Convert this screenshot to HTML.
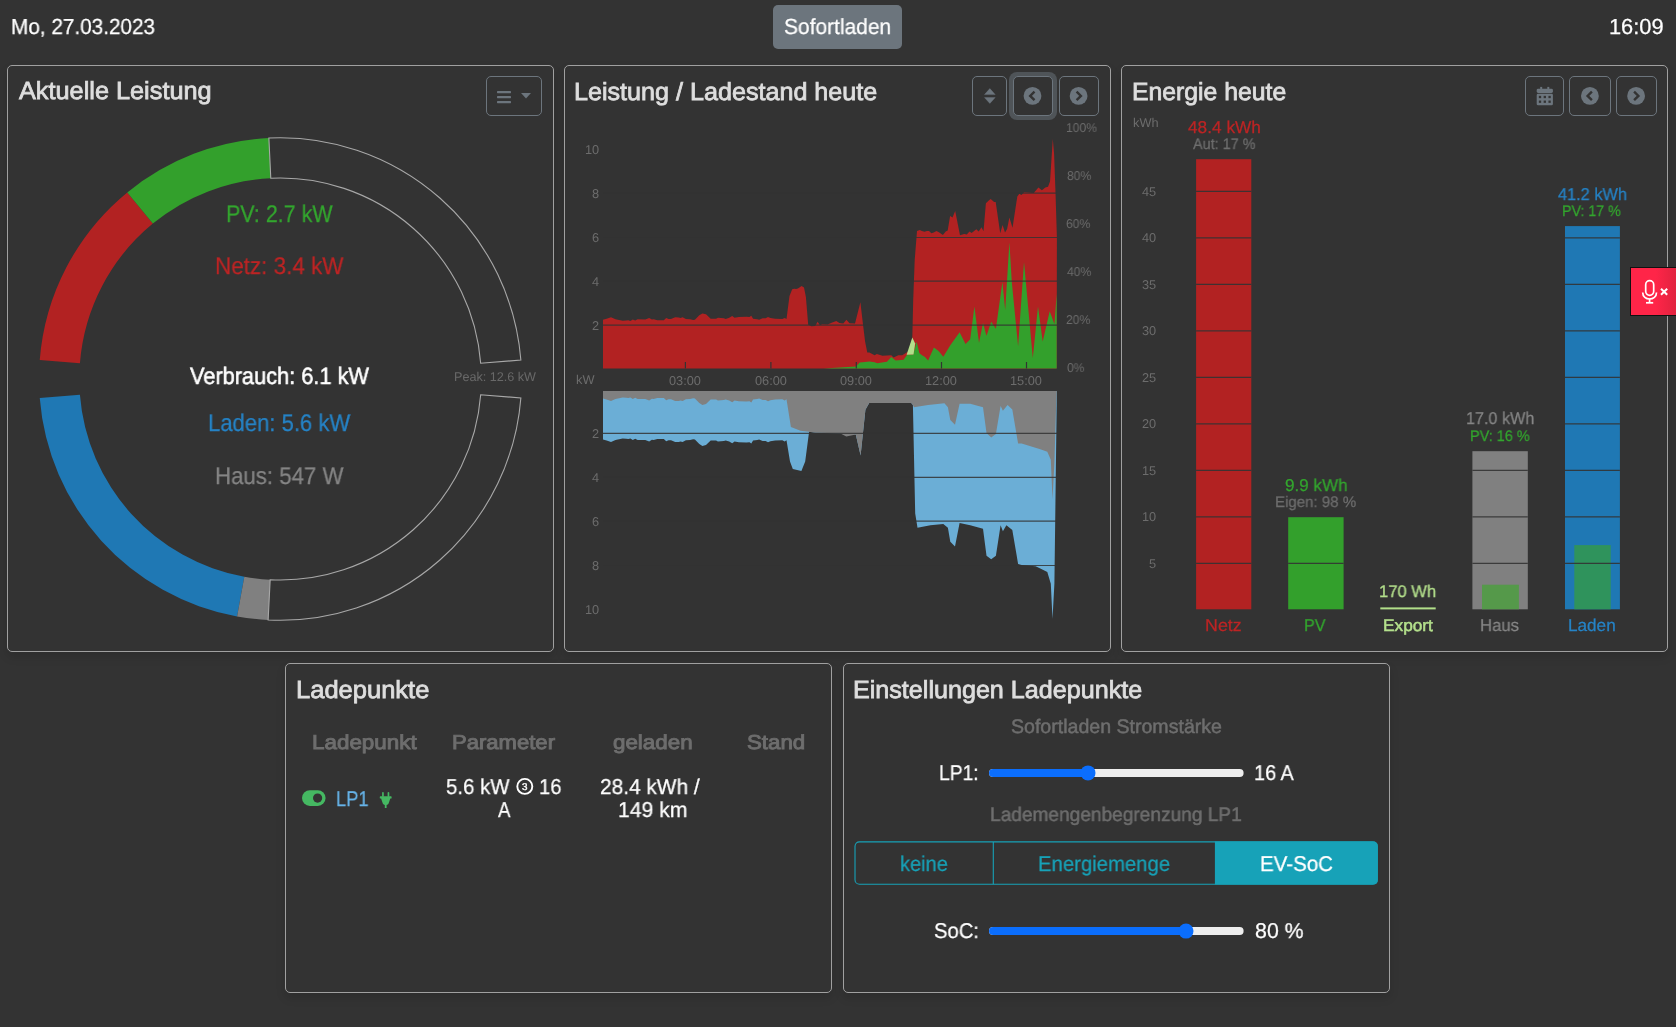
<!DOCTYPE html>
<html><head><meta charset="utf-8"><title>openWB</title>
<style>
html,body{margin:0;padding:0;}
body{width:1676px;height:1027px;background:#333333;position:relative;overflow:hidden;font-family:"Liberation Sans",sans-serif;}
.card{position:absolute;box-sizing:border-box;border:1px solid #a0a0a0;border-radius:5px;background:#333333;box-shadow:0 5px 10px rgba(0,0,0,0.13);}
.btn{position:absolute;box-sizing:border-box;border:1px solid #6c757d;border-radius:5px;}
.tx{position:absolute;white-space:nowrap;line-height:normal;transform-origin:0 0;will-change:transform;text-rendering:geometricPrecision;font-family:"Liberation Sans",sans-serif;}
svg{position:absolute;left:0;top:0;}
</style></head><body>
<div class="card" style="left:7px;top:65px;width:547px;height:587px"></div>
<div class="card" style="left:564px;top:65px;width:547px;height:587px"></div>
<div class="card" style="left:1121px;top:65px;width:547px;height:587px"></div>
<div class="card" style="left:285px;top:663px;width:547px;height:330px"></div>
<div class="card" style="left:843px;top:663px;width:547px;height:330px"></div>
<div style="position:absolute;left:773px;top:5px;width:129px;height:44px;background:#6c757d;border-radius:5px"></div>
<div class="btn" style="left:486px;top:76px;width:56px;height:40px"></div>
<div style="position:absolute;left:1008.5px;top:72px;width:48px;height:48px;border-radius:8px;background:rgba(108,117,125,0.5)"></div>
<div class="btn" style="left:1012.5px;top:76px;width:40px;height:40px;background:#333"></div>
<div class="btn" style="left:972px;top:76px;width:35px;height:40px"></div>
<div class="btn" style="left:1058.5px;top:76px;width:40.5px;height:40px"></div>
<div class="btn" style="left:1525px;top:76px;width:39px;height:40px"></div>
<div class="btn" style="left:1569px;top:76px;width:42px;height:40px"></div>
<div class="btn" style="left:1616px;top:76px;width:41px;height:40px"></div>
<svg width="1676" height="1027" viewBox="0 0 1676 1027"><path d="M39.74,360.07 A241.3,241.3 0 0 1 127.28,192.42 L152.84,223.59 A201.0,201.0 0 0 0 79.92,363.23 Z" fill="#b22222"/>
<path d="M127.28,192.42 A241.3,241.3 0 0 1 268.87,137.97 L270.78,178.23 A201.0,201.0 0 0 0 152.84,223.59 Z" fill="#33a02c"/>
<path d="M268.87,137.97 A241.3,241.3 0 0 1 520.86,360.07 L480.68,363.23 A201.0,201.0 0 0 0 270.78,178.23 Z" fill="none" stroke="#a8a8a8" stroke-width="1.1"/>
<path d="M39.74,397.93 A241.3,241.3 0 0 0 237.10,616.40 L244.31,576.75 A201.0,201.0 0 0 1 79.92,394.77 Z" fill="#1f78b4"/>
<path d="M237.10,616.40 A241.3,241.3 0 0 0 268.13,619.99 L270.16,579.74 A201.0,201.0 0 0 1 244.31,576.75 Z" fill="#808080"/>
<path d="M268.13,619.99 A241.3,241.3 0 0 0 520.86,397.93 L480.68,394.77 A201.0,201.0 0 0 1 270.16,579.74 Z" fill="none" stroke="#a8a8a8" stroke-width="1.1"/>
<path d="M603.0,368.5 L603.0,319.7 L606.6,318.8 L611.0,317.2 L615.5,319.2 L622.7,320.8 L626.3,320.6 L628.3,320.2 L630.4,320.9 L632.8,319.4 L635.2,320.6 L637.6,319.2 L645.3,319.4 L649.2,317.9 L651.9,319.6 L653.7,319.2 L657.3,320.2 L663.8,320.2 L666.2,318.0 L668.6,319.1 L671.0,319.1 L675.2,317.3 L678.8,317.4 L680.5,317.9 L682.6,317.3 L685.9,319.0 L690.1,319.2 L693.1,320.0 L694.9,319.8 L699.3,315.2 L702.4,313.4 L706.0,314.3 L710.7,318.8 L716.1,318.8 L717.9,317.7 L723.9,318.3 L725.7,318.9 L729.2,317.7 L732.2,316.0 L734.6,317.7 L738.8,317.0 L746.5,316.7 L749.5,317.0 L751.3,315.7 L753.1,318.8 L757.3,319.3 L759.1,319.7 L762.6,318.3 L765.6,318.2 L768.0,317.0 L770.4,318.1 L775.2,318.8 L782.3,319.1 L784.7,317.9 L786.5,319.1 L787.7,309.8 L789.5,296.1 L792.2,289.2 L794.3,288.7 L796.1,288.9 L797.9,288.4 L801.6,286.1 L804.0,287.4 L805.9,297.1 L808.2,324.8 L811.4,326.3 L815.2,326.0 L817.6,321.7 L819.9,325.2 L822.3,324.2 L827.7,324.4 L831.6,322.7 L836.3,321.1 L839.4,323.0 L843.3,323.6 L846.4,319.7 L849.5,323.2 L855.0,323.6 L860.4,302.2 L863.1,325.2 L865.1,341.5 L867.3,352.5 L869.4,352.6 L874.6,355.2 L876.8,354.1 L882.5,355.7 L891.3,355.2 L893.5,357.4 L898.3,355.2 L902.2,355.2 L906.6,352.6 L908.8,350.9 L912.3,337.7 L913.2,300.0 L914.7,260.0 L917.0,230.9 L919.8,229.9 L921.8,230.9 L924.5,231.7 L926.9,230.9 L929.0,231.0 L931.4,233.3 L933.7,232.6 L936.5,231.0 L938.9,232.3 L942.9,234.9 L945.7,231.6 L947.7,230.6 L950.1,215.9 L952.5,217.6 L955.2,211.1 L960.0,235.3 L964.1,234.0 L966.8,234.6 L969.5,231.6 L971.6,233.1 L976.3,229.2 L978.7,231.4 L981.5,227.2 L983.5,231.2 L985.9,203.3 L989.3,199.9 L990.7,199.1 L994.1,201.9 L995.7,201.9 L1000.2,233.2 L1002.6,225.0 L1005.0,232.6 L1007.1,229.1 L1009.4,217.5 L1012.5,227.8 L1017.3,196.4 L1019.3,193.7 L1021.4,195.0 L1024.1,192.3 L1033.7,193.0 L1038.4,187.5 L1041.9,190.3 L1045.3,187.5 L1048.0,186.8 L1050.0,181.4 L1052.8,139.1 L1054.1,154.1 L1055.5,192.3 L1056.9,237.3 L1056.7,368.5 Z" fill="#b22222"/>
<path d="M823.4,368.5 L840.0,367.6 L855.8,366.4 L859.7,362.6 L865.0,362.0 L869.4,361.4 L874.6,362.2 L877.3,363.3 L883.4,362.2 L886.9,361.8 L891.3,357.0 L895.7,360.5 L903.6,359.8 L907.1,354.8 L913.2,354.4 L916.7,341.7 L919.3,353.0 L922.0,355.2 L925.0,357.0 L928.1,360.4 L933.9,347.5 L938.6,351.0 L943.3,356.8 L950.3,345.2 L959.6,332.3 L965.5,344.0 L970.2,339.3 L974.4,306.6 L979.0,342.8 L983.0,322.9 L986.5,335.8 L991.2,321.8 L995.9,328.8 L1002.4,282.0 L1005.2,310.1 L1009.4,242.3 L1011.8,282.0 L1018.1,346.3 L1024.0,262.1 L1032.8,358.0 L1038.0,306.6 L1042.7,341.6 L1049.7,311.2 L1054.4,324.1 L1056.7,293.7 L1056.7,368.5 Z" fill="#33a02c"/>
<path d="M906.6,354.8 L912.3,337.4 L915.2,343.5 L913.5,354.6 Z" fill="#b2df8a"/>
<path d="M603.0,391.0 L603.0,439.6 L606.6,440.5 L611.0,442.1 L615.5,440.1 L622.7,438.5 L626.3,438.7 L628.3,439.1 L630.4,438.4 L632.8,439.9 L635.2,438.7 L637.6,440.1 L645.3,439.9 L649.2,441.4 L651.9,439.7 L653.7,440.1 L657.3,439.1 L663.8,439.1 L666.2,441.3 L668.6,440.2 L671.0,440.2 L675.2,442.0 L678.8,441.9 L680.5,441.4 L682.6,442.0 L685.9,440.3 L690.1,440.1 L693.1,439.3 L694.9,439.5 L699.3,444.1 L702.4,445.9 L706.0,445.0 L710.7,440.5 L716.1,440.5 L717.9,441.6 L723.9,441.0 L725.7,440.4 L729.2,441.6 L732.2,443.3 L734.6,441.6 L738.8,442.3 L746.5,442.6 L749.5,442.3 L751.3,443.6 L753.1,440.5 L757.3,440.0 L759.1,439.6 L762.6,441.0 L765.6,441.1 L768.0,442.3 L770.4,441.2 L775.2,440.5 L782.3,440.2 L784.7,441.4 L786.5,440.2 L790.0,461.4 L792.8,469.0 L801.4,470.9 L805.2,461.4 L809.1,431.8 L815.7,432.7 L848.2,433.7 L855.8,434.6 L860.6,455.6 L865.4,409.8 L869.2,403.1 L911.2,403.1 L912.9,404.9 L915.2,513.6 L917.5,527.7 L930.4,525.3 L943.3,524.1 L947.9,527.7 L950.3,541.7 L955.0,546.4 L959.6,523.0 L970.2,525.3 L983.0,528.8 L986.5,555.7 L991.2,559.2 L995.9,555.7 L1000.6,525.3 L1002.9,531.2 L1006.4,525.3 L1012.3,530.0 L1018.1,563.9 L1021.6,565.1 L1035.6,566.2 L1040.3,568.6 L1047.3,572.1 L1050.8,583.8 L1052.5,618.9 L1054.4,583.8 L1056.7,403.7 L1056.7,391.0 Z" fill="#6baed6"/>
<path d="M603.0,391.0 L603.0,398.6 L606.6,399.5 L611.0,401.1 L615.5,399.1 L622.7,397.5 L626.3,397.7 L628.3,398.1 L630.4,397.4 L632.8,398.9 L635.2,397.7 L637.6,399.1 L645.3,398.9 L649.2,400.4 L651.9,398.7 L653.7,399.1 L657.3,398.1 L663.8,398.1 L666.2,400.3 L668.6,399.2 L671.0,399.2 L675.2,401.0 L678.8,400.9 L680.5,400.4 L682.6,401.0 L685.9,399.3 L690.1,399.1 L693.1,398.3 L694.9,398.5 L699.3,403.1 L702.4,404.9 L706.0,404.0 L710.7,399.5 L716.1,399.5 L717.9,400.6 L723.9,400.0 L725.7,399.4 L729.2,400.6 L732.2,402.3 L734.6,400.6 L738.8,401.3 L746.5,401.6 L749.5,401.3 L751.3,402.6 L753.1,399.5 L757.3,399.0 L759.1,398.6 L762.6,400.0 L765.6,400.1 L768.0,401.3 L770.4,400.2 L775.2,399.5 L782.3,399.2 L784.7,400.4 L786.5,399.2 L790.9,427.0 L800.5,430.8 L809.1,431.8 L815.7,432.7 L840.0,433.3 L846.3,436.5 L855.8,434.6 L860.6,455.6 L865.4,409.8 L869.2,403.1 L911.2,403.1 L912.9,404.9 L914.0,407.2 L928.1,404.9 L944.4,403.2 L947.9,407.2 L950.3,420.1 L955.0,424.8 L959.6,403.7 L970.2,403.7 L983.0,407.2 L986.5,433.0 L991.2,437.6 L995.9,434.1 L1000.6,406.0 L1002.9,410.7 L1007.6,404.9 L1012.3,409.6 L1018.1,443.5 L1021.6,443.5 L1040.3,449.3 L1047.3,451.7 L1050.8,459.8 L1052.5,499.6 L1054.4,462.2 L1056.2,403.7 L1056.7,392.0 L1056.7,391.0 Z" fill="#808080"/>
<line x1="603" y1="325.2" x2="1057" y2="325.2" stroke="#333" stroke-opacity="0.85" stroke-width="1.2"/>
<line x1="603" y1="281.2" x2="1057" y2="281.2" stroke="#333" stroke-opacity="0.85" stroke-width="1.2"/>
<line x1="603" y1="237.5" x2="1057" y2="237.5" stroke="#333" stroke-opacity="0.85" stroke-width="1.2"/>
<line x1="603" y1="193.1" x2="1057" y2="193.1" stroke="#333" stroke-opacity="0.85" stroke-width="1.2"/>
<line x1="603" y1="433.4" x2="1057" y2="433.4" stroke="#333" stroke-opacity="0.85" stroke-width="1.2"/>
<line x1="603" y1="477.4" x2="1057" y2="477.4" stroke="#333" stroke-opacity="0.85" stroke-width="1.2"/>
<line x1="603" y1="521.1" x2="1057" y2="521.1" stroke="#333" stroke-opacity="0.85" stroke-width="1.2"/>
<line x1="603" y1="565.5" x2="1057" y2="565.5" stroke="#333" stroke-opacity="0.85" stroke-width="1.2"/>
<line x1="685.4" y1="362" x2="685.4" y2="368.5" stroke="#333" stroke-width="1.2"/>
<line x1="770.9" y1="362" x2="770.9" y2="368.5" stroke="#333" stroke-width="1.2"/>
<line x1="856.3" y1="362" x2="856.3" y2="368.5" stroke="#333" stroke-width="1.2"/>
<line x1="941.5" y1="362" x2="941.5" y2="368.5" stroke="#333" stroke-width="1.2"/>
<line x1="1026.5" y1="362" x2="1026.5" y2="368.5" stroke="#333" stroke-width="1.2"/>
<rect x="1196.1" y="159.2" width="55.200000000000045" height="450.1" fill="#b22222"/>
<rect x="1288.2" y="517.2" width="55.399999999999864" height="92.1" fill="#33a02c"/>
<rect x="1472.4" y="451.2" width="55.399999999999864" height="158.1" fill="#808080"/>
<rect x="1565" y="226.1" width="54.90000000000009" height="383.2" fill="#1f78b4"/>
<rect x="1482" y="584.7" width="36.90000000000009" height="24.6" fill="#55994a"/>
<rect x="1574.3" y="545.1" width="36.40000000000009" height="64.2" fill="#2f935c"/>
<rect x="1380.3" y="607.4" width="55.4" height="2" fill="#b2df8a"/>
<line x1="1196.1" y1="191.4" x2="1251.3" y2="191.4" stroke="#333" stroke-opacity="0.9" stroke-width="1.2"/>
<line x1="1196.1" y1="237.9" x2="1251.3" y2="237.9" stroke="#333" stroke-opacity="0.9" stroke-width="1.2"/>
<line x1="1565" y1="237.9" x2="1619.9" y2="237.9" stroke="#333" stroke-opacity="0.9" stroke-width="1.2"/>
<line x1="1196.1" y1="284.4" x2="1251.3" y2="284.4" stroke="#333" stroke-opacity="0.9" stroke-width="1.2"/>
<line x1="1565" y1="284.4" x2="1619.9" y2="284.4" stroke="#333" stroke-opacity="0.9" stroke-width="1.2"/>
<line x1="1196.1" y1="330.9" x2="1251.3" y2="330.9" stroke="#333" stroke-opacity="0.9" stroke-width="1.2"/>
<line x1="1565" y1="330.9" x2="1619.9" y2="330.9" stroke="#333" stroke-opacity="0.9" stroke-width="1.2"/>
<line x1="1196.1" y1="377.4" x2="1251.3" y2="377.4" stroke="#333" stroke-opacity="0.9" stroke-width="1.2"/>
<line x1="1565" y1="377.4" x2="1619.9" y2="377.4" stroke="#333" stroke-opacity="0.9" stroke-width="1.2"/>
<line x1="1196.1" y1="423.9" x2="1251.3" y2="423.9" stroke="#333" stroke-opacity="0.9" stroke-width="1.2"/>
<line x1="1565" y1="423.9" x2="1619.9" y2="423.9" stroke="#333" stroke-opacity="0.9" stroke-width="1.2"/>
<line x1="1196.1" y1="470.4" x2="1251.3" y2="470.4" stroke="#333" stroke-opacity="0.9" stroke-width="1.2"/>
<line x1="1472.4" y1="470.4" x2="1527.8" y2="470.4" stroke="#333" stroke-opacity="0.9" stroke-width="1.2"/>
<line x1="1565" y1="470.4" x2="1619.9" y2="470.4" stroke="#333" stroke-opacity="0.9" stroke-width="1.2"/>
<line x1="1196.1" y1="516.9" x2="1251.3" y2="516.9" stroke="#333" stroke-opacity="0.9" stroke-width="1.2"/>
<line x1="1472.4" y1="516.9" x2="1527.8" y2="516.9" stroke="#333" stroke-opacity="0.9" stroke-width="1.2"/>
<line x1="1565" y1="516.9" x2="1619.9" y2="516.9" stroke="#333" stroke-opacity="0.9" stroke-width="1.2"/>
<line x1="1196.1" y1="563.4" x2="1251.3" y2="563.4" stroke="#333" stroke-opacity="0.9" stroke-width="1.2"/>
<line x1="1288.2" y1="563.4" x2="1343.6" y2="563.4" stroke="#333" stroke-opacity="0.9" stroke-width="1.2"/>
<line x1="1472.4" y1="563.4" x2="1527.8" y2="563.4" stroke="#333" stroke-opacity="0.9" stroke-width="1.2"/>
<line x1="1565" y1="563.4" x2="1619.9" y2="563.4" stroke="#333" stroke-opacity="0.9" stroke-width="1.2"/>
<rect x="497" y="91" width="14" height="2.2" rx="0.6" fill="#6c757d"/>
<rect x="497" y="96" width="14" height="2.2" rx="0.6" fill="#6c757d"/>
<rect x="497" y="101" width="14" height="2.2" rx="0.6" fill="#6c757d"/>
<path d="M521,93 L531,93 L526,98.5 Z" fill="#6c757d"/>
<path d="M989.85,88.6 L995.2,94.6 L984.5,94.6 Z M989.85,103.4 L995.2,97.6 L984.5,97.6 Z" fill="#6c757d" stroke="#6c757d" stroke-width="0.4" stroke-linejoin="round"/>
<circle cx="1032.5" cy="95.9" r="8.9" fill="#6c757d"/>
<path d="M1034.5,91.7 L1030.2,95.9 L1034.5,100.10000000000001" fill="none" stroke="#333" stroke-width="2.4" stroke-linecap="butt" stroke-linejoin="miter"/>
<circle cx="1078.6" cy="95.9" r="8.9" fill="#6c757d"/>
<path d="M1076.6,91.7 L1080.8999999999999,95.9 L1076.6,100.10000000000001" fill="none" stroke="#333" stroke-width="2.4" stroke-linecap="butt" stroke-linejoin="miter"/>
<circle cx="1589.9" cy="95.9" r="8.9" fill="#6c757d"/>
<path d="M1591.9,91.7 L1587.6000000000001,95.9 L1591.9,100.10000000000001" fill="none" stroke="#333" stroke-width="2.4" stroke-linecap="butt" stroke-linejoin="miter"/>
<circle cx="1636.1" cy="95.9" r="8.9" fill="#6c757d"/>
<path d="M1634.1,91.7 L1638.3999999999999,95.9 L1634.1,100.10000000000001" fill="none" stroke="#333" stroke-width="2.4" stroke-linecap="butt" stroke-linejoin="miter"/>
<rect x="1536.7" y="88.7" width="16.2" height="4.3" rx="1.4" fill="#6c757d"/>
<rect x="1536.7" y="93.7" width="16.2" height="11.6" rx="1.4" fill="#6c757d"/>
<rect x="1540.2" y="86.9" width="2" height="3" fill="#6c757d"/><rect x="1547.3" y="86.9" width="2" height="3" fill="#6c757d"/>
<rect x="1538.85" y="95.85" width="2.3" height="2.3" fill="#333"/>
<rect x="1538.85" y="100.55" width="2.3" height="2.3" fill="#333"/>
<rect x="1543.65" y="95.85" width="2.3" height="2.3" fill="#333"/>
<rect x="1543.65" y="100.55" width="2.3" height="2.3" fill="#333"/>
<rect x="1548.45" y="95.85" width="2.3" height="2.3" fill="#333"/>
<rect x="1548.45" y="100.55" width="2.3" height="2.3" fill="#333"/>
<rect x="302" y="790.3" width="23.6" height="15.6" rx="7.8" fill="#45b862"/>
<circle cx="317.6" cy="798.1" r="4.6" fill="#333"/>
<g fill="#45b862"><rect x="382.1" y="791.9" width="1.7" height="5" rx="0.85"/><rect x="387.6" y="791.9" width="1.7" height="5" rx="0.85"/><path d="M380.4,796.3 L391.0,796.3 Q391.6,796.3 391.6,796.9 L391.6,797.9 Q391.6,798.5 391.0,798.5 L390.3,798.5 L388.6,803.6 Q388.2,804.6 387.2,804.8 L386.6,804.9 L386.6,808.0 L384.8,808.0 L384.8,804.9 L384.2,804.8 Q383.2,804.6 382.8,803.6 L381.1,798.5 L380.4,798.5 Q379.8,798.5 379.8,797.9 L379.8,796.9 Q379.8,796.3 380.4,796.3 Z"/></g>
<circle cx="524.8" cy="786.4" r="7.5" fill="none" stroke="#fff" stroke-width="1.9"/>
<rect x="989" y="768.9" width="254.5999999999999" height="8" rx="4" fill="#eeeeee"/>
<rect x="989" y="768.9" width="99" height="8" rx="4" fill="#0b6efd"/>
<circle cx="1088" cy="772.9" r="7.5" fill="#0b6efd"/>
<rect x="989" y="927.1" width="254.5999999999999" height="8" rx="4" fill="#eeeeee"/>
<rect x="989" y="927.1" width="197" height="8" rx="4" fill="#0b6efd"/>
<circle cx="1186" cy="931.1" r="7.5" fill="#0b6efd"/>
<rect x="855" y="841.9" width="522.3" height="42.3" rx="4.5" fill="none" stroke="#17a2b8" stroke-width="1.1"/>
<path d="M1214.9,841.4 L1373,841.4 Q1377.8,841.4 1377.8,846 L1377.8,880 Q1377.8,884.6 1373,884.6 L1214.9,884.6 Z" fill="#17a2b8"/>
<line x1="993.3" y1="841.9" x2="993.3" y2="884.2" stroke="#17a2b8" stroke-width="1.1"/></svg>
<div style="position:absolute;left:1630px;top:267px;width:46px;height:49px;box-sizing:border-box;border:1px solid #111;border-right:none;background:linear-gradient(90deg,#ff2548 0%,#ff2548 55%,#e0233f 100%)"></div>
<svg width="1676" height="1027" style="position:absolute;left:0;top:0"><g fill="none" stroke="#fff" stroke-width="1.7"><rect x="1645.7" y="280.7" width="8.0" height="14.6" rx="4"/><path d="M1642.7,292.4 C1642.7,301.2 1656.5,301.2 1656.5,292.4"/><line x1="1649.6" y1="298.6" x2="1649.6" y2="302.6"/><line x1="1646" y1="302.8" x2="1653.2" y2="302.8"/><path d="M1661,288.8 L1667.2,294.8 M1667.2,288.8 L1661,294.8" stroke-width="2"/></g></svg>
<span class="tx" style="left:11.17px;top:14px;font-size:21.81px;color:#ffffff;transform:scaleX(0.9511);-webkit-text-stroke:0.25px #ffffff;">Mo, 27.03.2023</span>
<span class="tx" style="left:784.09px;top:14px;font-size:21.81px;color:#ffffff;transform:scaleX(0.9616);-webkit-text-stroke:0.25px #ffffff;">Sofortladen</span>
<span class="tx" style="left:1609.41px;top:14px;font-size:21.81px;color:#ffffff;transform:scaleX(0.9943);-webkit-text-stroke:0.25px #ffffff;">16:09</span>
<span class="tx" style="left:18.80px;top:78px;font-size:24.78px;color:#dedede;transform:scaleX(1.0211);-webkit-text-stroke:0.8px #dedede;">Aktuelle Leistung</span>
<span class="tx" style="left:574.29px;top:79px;font-size:24.78px;color:#dedede;transform:scaleX(1.0148);-webkit-text-stroke:0.8px #dedede;">Leistung / Ladestand heute</span>
<span class="tx" style="left:1131.82px;top:79px;font-size:24.78px;color:#dedede;-webkit-text-stroke:0.8px #dedede;">Energie heute</span>
<span class="tx" style="left:295.86px;top:677px;font-size:24.78px;color:#dedede;transform:scaleX(1.0304);-webkit-text-stroke:0.8px #dedede;">Ladepunkte</span>
<span class="tx" style="left:853.49px;top:677px;font-size:24.78px;color:#dedede;transform:scaleX(1.0144);-webkit-text-stroke:0.8px #dedede;">Einstellungen Ladepunkte</span>
<span class="tx" style="left:226.11px;top:201px;font-size:24.13px;color:#33a62e;transform:scaleX(0.8902);-webkit-text-stroke:0.25px #33a62e;">PV: 2.7 kW</span>
<span class="tx" style="left:214.73px;top:253px;font-size:24.13px;color:#bd2424;transform:scaleX(0.9305);-webkit-text-stroke:0.25px #bd2424;">Netz: 3.4 kW</span>
<span class="tx" style="left:190.47px;top:364px;font-size:23.7px;color:#ffffff;transform:scaleX(0.9182);-webkit-text-stroke:0.55px #ffffff;">Verbrauch: 6.1 kW</span>
<span class="tx" style="left:208.36px;top:410px;font-size:24.13px;color:#2583c6;transform:scaleX(0.9144);-webkit-text-stroke:0.25px #2583c6;">Laden: 5.6 kW</span>
<span class="tx" style="left:214.85px;top:463px;font-size:24.13px;color:#858585;transform:scaleX(0.9212);-webkit-text-stroke:0.25px #858585;">Haus: 547 W</span>
<span class="tx" style="left:454.29px;top:370px;font-size:12.61px;color:#686868;">Peak: 12.6 kW</span>
<span class="tx" style="left:584.88px;top:142px;font-size:12.75px;color:#6c6c6c;">10</span>
<span class="tx" style="left:591.97px;top:186px;font-size:12.75px;color:#6c6c6c;">8</span>
<span class="tx" style="left:591.97px;top:230px;font-size:12.75px;color:#6c6c6c;">6</span>
<span class="tx" style="left:591.84px;top:274px;font-size:12.75px;color:#6c6c6c;">4</span>
<span class="tx" style="left:592.10px;top:318px;font-size:12.75px;color:#6c6c6c;">2</span>
<span class="tx" style="left:592.10px;top:426px;font-size:12.75px;color:#6c6c6c;">2</span>
<span class="tx" style="left:591.84px;top:470px;font-size:12.75px;color:#6c6c6c;">4</span>
<span class="tx" style="left:591.97px;top:514px;font-size:12.75px;color:#6c6c6c;">6</span>
<span class="tx" style="left:591.97px;top:558px;font-size:12.75px;color:#6c6c6c;">8</span>
<span class="tx" style="left:584.88px;top:602px;font-size:12.75px;color:#6c6c6c;">10</span>
<span class="tx" style="left:575.94px;top:372px;font-size:12.75px;color:#6c6c6c;">kW</span>
<span class="tx" style="left:669.49px;top:373px;font-size:12.75px;color:#6c6c6c;">03:00</span>
<span class="tx" style="left:754.99px;top:373px;font-size:12.75px;color:#6c6c6c;">06:00</span>
<span class="tx" style="left:840.39px;top:373px;font-size:12.75px;color:#6c6c6c;">09:00</span>
<span class="tx" style="left:925.33px;top:373px;font-size:12.75px;color:#6c6c6c;">12:00</span>
<span class="tx" style="left:1010.33px;top:373px;font-size:12.75px;color:#6c6c6c;">15:00</span>
<span class="tx" style="left:1066.25px;top:120px;font-size:12.75px;color:#6c6c6c;transform:scaleX(0.9500);">100%</span>
<span class="tx" style="left:1066.62px;top:168px;font-size:12.75px;color:#6c6c6c;transform:scaleX(0.9500);">80%</span>
<span class="tx" style="left:1066.49px;top:216px;font-size:12.75px;color:#6c6c6c;transform:scaleX(0.9500);">60%</span>
<span class="tx" style="left:1066.86px;top:264px;font-size:12.75px;color:#6c6c6c;transform:scaleX(0.9500);">40%</span>
<span class="tx" style="left:1066.49px;top:312px;font-size:12.75px;color:#6c6c6c;transform:scaleX(0.9500);">20%</span>
<span class="tx" style="left:1066.74px;top:360px;font-size:12.75px;color:#6c6c6c;transform:scaleX(0.9500);">0%</span>
<span class="tx" style="left:1133.03px;top:115px;font-size:12.75px;color:#6c6c6c;">kWh</span>
<span class="tx" style="left:1141.88px;top:184px;font-size:12.75px;color:#6c6c6c;">45</span>
<span class="tx" style="left:1141.88px;top:230px;font-size:12.75px;color:#6c6c6c;">40</span>
<span class="tx" style="left:1141.88px;top:277px;font-size:12.75px;color:#6c6c6c;">35</span>
<span class="tx" style="left:1141.88px;top:323px;font-size:12.75px;color:#6c6c6c;">30</span>
<span class="tx" style="left:1141.88px;top:370px;font-size:12.75px;color:#6c6c6c;">25</span>
<span class="tx" style="left:1141.88px;top:416px;font-size:12.75px;color:#6c6c6c;">20</span>
<span class="tx" style="left:1141.88px;top:463px;font-size:12.75px;color:#6c6c6c;">15</span>
<span class="tx" style="left:1141.88px;top:509px;font-size:12.75px;color:#6c6c6c;">10</span>
<span class="tx" style="left:1148.97px;top:556px;font-size:12.75px;color:#6c6c6c;">5</span>
<span class="tx" style="left:1187.58px;top:117px;font-size:17.17px;color:#bd2424;transform:scaleX(1.0060);-webkit-text-stroke:0.25px #bd2424;">48.4 kWh</span>
<span class="tx" style="left:1192.83px;top:136px;font-size:15.29px;color:#6e6e6e;transform:scaleX(0.9423);-webkit-text-stroke:0.25px #6e6e6e;">Aut: 17 %</span>
<span class="tx" style="left:1284.64px;top:475px;font-size:17.17px;color:#33a62e;transform:scaleX(0.9938);-webkit-text-stroke:0.25px #33a62e;">9.9 kWh</span>
<span class="tx" style="left:1274.82px;top:494px;font-size:15.29px;color:#6e6e6e;transform:scaleX(0.9860);-webkit-text-stroke:0.25px #6e6e6e;">Eigen: 98 %</span>
<span class="tx" style="left:1379.26px;top:582px;font-size:16.88px;color:#b4e08c;transform:scaleX(0.9840);-webkit-text-stroke:0.25px #b4e08c;">170 Wh</span>
<span class="tx" style="left:1465.79px;top:408px;font-size:17.17px;color:#858585;transform:scaleX(0.9430);-webkit-text-stroke:0.25px #858585;">17.0 kWh</span>
<span class="tx" style="left:1469.97px;top:428px;font-size:15.29px;color:#33a62e;transform:scaleX(0.9454);-webkit-text-stroke:0.25px #33a62e;">PV: 16 %</span>
<span class="tx" style="left:1558.20px;top:184px;font-size:17.17px;color:#2583c6;transform:scaleX(0.9513);-webkit-text-stroke:0.25px #2583c6;">41.2 kWh</span>
<span class="tx" style="left:1562.49px;top:203px;font-size:15.29px;color:#33a62e;transform:scaleX(0.9308);-webkit-text-stroke:0.25px #33a62e;">PV: 17 %</span>
<span class="tx" style="left:1205.10px;top:615px;font-size:17.17px;color:#bd2424;transform:scaleX(1.0393);-webkit-text-stroke:0.25px #bd2424;">Netz</span>
<span class="tx" style="left:1304.44px;top:615px;font-size:17.17px;color:#33a62e;transform:scaleX(0.9383);-webkit-text-stroke:0.25px #33a62e;">PV</span>
<span class="tx" style="left:1382.67px;top:616px;font-size:16.81px;color:#b4e08c;transform:scaleX(1.0280);-webkit-text-stroke:0.5px #b4e08c;">Export</span>
<span class="tx" style="left:1480.29px;top:615px;font-size:17.17px;color:#858585;transform:scaleX(0.9727);-webkit-text-stroke:0.25px #858585;">Haus</span>
<span class="tx" style="left:1568.35px;top:615px;font-size:17.17px;color:#2583c6;-webkit-text-stroke:0.25px #2583c6;">Laden</span>
<span class="tx" style="left:312.06px;top:732px;font-size:20.14px;color:#6e6e6e;transform:scaleX(1.1135);-webkit-text-stroke:0.9px #6e6e6e;">Ladepunkt</span>
<span class="tx" style="left:451.58px;top:732px;font-size:20.14px;color:#6e6e6e;transform:scaleX(1.0960);-webkit-text-stroke:0.9px #6e6e6e;">Parameter</span>
<span class="tx" style="left:612.95px;top:732px;font-size:20.14px;color:#6e6e6e;transform:scaleX(1.1112);-webkit-text-stroke:0.9px #6e6e6e;">geladen</span>
<span class="tx" style="left:746.86px;top:732px;font-size:20.14px;color:#6e6e6e;transform:scaleX(1.1066);-webkit-text-stroke:0.9px #6e6e6e;">Stand</span>
<span class="tx" style="left:335.97px;top:787px;font-size:21.38px;color:#66b3e8;transform:scaleX(0.8530);-webkit-text-stroke:0.25px #66b3e8;">LP1</span>
<span class="tx" style="left:446.31px;top:775px;font-size:21.52px;color:#ffffff;transform:scaleX(0.9473);-webkit-text-stroke:0.25px #ffffff;">5.6 kW</span>
<span class="tx" style="left:538.71px;top:775px;font-size:21.52px;color:#ffffff;transform:scaleX(0.9398);-webkit-text-stroke:0.25px #ffffff;">16</span>
<span class="tx" style="left:522.09px;top:782px;font-size:9.86px;color:#ffffff;-webkit-text-stroke:0.4px #ffffff;">3</span>
<span class="tx" style="left:497.82px;top:798px;font-size:21.52px;color:#ffffff;transform:scaleX(0.8704);-webkit-text-stroke:0.25px #ffffff;">A</span>
<span class="tx" style="left:600.08px;top:775px;font-size:21.52px;color:#ffffff;transform:scaleX(0.9697);-webkit-text-stroke:0.25px #ffffff;">28.4 kWh /</span>
<span class="tx" style="left:617.95px;top:798px;font-size:21.52px;color:#ffffff;transform:scaleX(0.9814);-webkit-text-stroke:0.25px #ffffff;">149 km</span>
<span class="tx" style="left:1010.67px;top:716px;font-size:19.57px;color:#6e6e6e;-webkit-text-stroke:0.5px #6e6e6e;">Sofortladen Stromstärke</span>
<span class="tx" style="left:938.99px;top:761px;font-size:21.38px;color:#ffffff;transform:scaleX(0.8999);-webkit-text-stroke:0.25px #ffffff;">LP1:</span>
<span class="tx" style="left:1254.03px;top:761px;font-size:21.38px;color:#ffffff;transform:scaleX(0.9295);-webkit-text-stroke:0.25px #ffffff;">16 A</span>
<span class="tx" style="left:989.92px;top:804px;font-size:19.57px;color:#6e6e6e;transform:scaleX(0.9764);-webkit-text-stroke:0.5px #6e6e6e;">Lademengenbegrenzung LP1</span>
<span class="tx" style="left:899.92px;top:852px;font-size:21.38px;color:#17a2b8;transform:scaleX(0.9367);-webkit-text-stroke:0.25px #17a2b8;">keine</span>
<span class="tx" style="left:1037.50px;top:852px;font-size:21.38px;color:#17a2b8;transform:scaleX(0.9500);-webkit-text-stroke:0.25px #17a2b8;">Energiemenge</span>
<span class="tx" style="left:1259.68px;top:852px;font-size:21.38px;color:#ffffff;transform:scaleX(0.9606);-webkit-text-stroke:0.25px #ffffff;">EV-SoC</span>
<span class="tx" style="left:933.72px;top:919px;font-size:21.38px;color:#ffffff;transform:scaleX(0.9454);-webkit-text-stroke:0.25px #ffffff;">SoC:</span>
<span class="tx" style="left:1254.57px;top:919px;font-size:21.38px;color:#ffffff;transform:scaleX(0.9957);-webkit-text-stroke:0.25px #ffffff;">80 %</span>
</body></html>
